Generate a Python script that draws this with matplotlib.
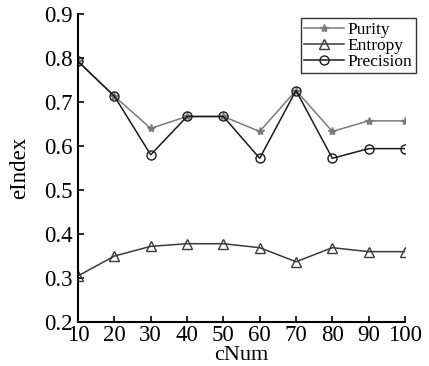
import matplotlib.pyplot as plt

c_num = [10, 20, 30, 40, 50, 60, 70, 80, 90, 100]
purity = [0.792, 0.713, 0.640, 0.667, 0.667, 0.633, 0.726, 0.633, 0.657, 0.657]
entropy = [0.305, 0.350, 0.372, 0.378, 0.378, 0.369, 0.337, 0.369, 0.360, 0.360]
precision = [0.792, 0.713, 0.580, 0.667, 0.667, 0.572, 0.726, 0.572, 0.594, 0.594]

plt.rcParams['font.family'] = 'Liberation Serif'

fig = plt.figure(figsize=(4.29, 3.66), dpi=100)
ax = fig.add_axes([0.182, 0.12, 0.762, 0.842])

ax.plot(c_num, purity, color='#7a7a7a', marker='*', markersize=6, lw=1.1,
        label='Purity')
ax.plot(c_num, entropy, color='#3a3a3a', marker='^', markersize=7, lw=1.1,
        markerfacecolor='none', markeredgewidth=1.0, label='Entropy')
ax.plot(c_num, precision, color='#1a1a1a', marker='o', markersize=6.5, lw=1.1,
        markerfacecolor='none', markeredgewidth=1.0, label='Precision')

ax.set_xlim(10, 100)
ax.set_ylim(0.2, 0.9)
ax.set_xticks(c_num)
ax.set_yticks([0.2, 0.3, 0.4, 0.5, 0.6, 0.7, 0.8, 0.9])
ax.set_yticklabels(['0.2', '0.3', '0.4', '0.5', '0.6', '0.7', '0.8', '0.9'])
ax.tick_params(direction='in', length=4, width=1.2, labelsize=16.5, pad=2)
ax.tick_params(axis='y', pad=4)
ax.spines['top'].set_visible(False)
ax.spines['right'].set_visible(False)
ax.spines['left'].set_linewidth(1.5)
ax.spines['bottom'].set_linewidth(1.5)

ax.set_xlabel('cNum', fontsize=16, labelpad=0)
ax.set_ylabel('eIndex', fontsize=16.5, labelpad=10)

leg = ax.legend(loc='upper right', bbox_to_anchor=(416 / 429, 1 - 18 / 366),
                bbox_transform=fig.transFigure, fontsize=12.5, frameon=True,
                fancybox=False, edgecolor='black', handlelength=2.3,
                handletextpad=0.2, borderpad=0.2, labelspacing=0.0,
                borderaxespad=0)
leg.get_frame().set_linewidth(1.0)
leg.set_clip_on(False)

fig.savefig('out.png', dpi=100)
